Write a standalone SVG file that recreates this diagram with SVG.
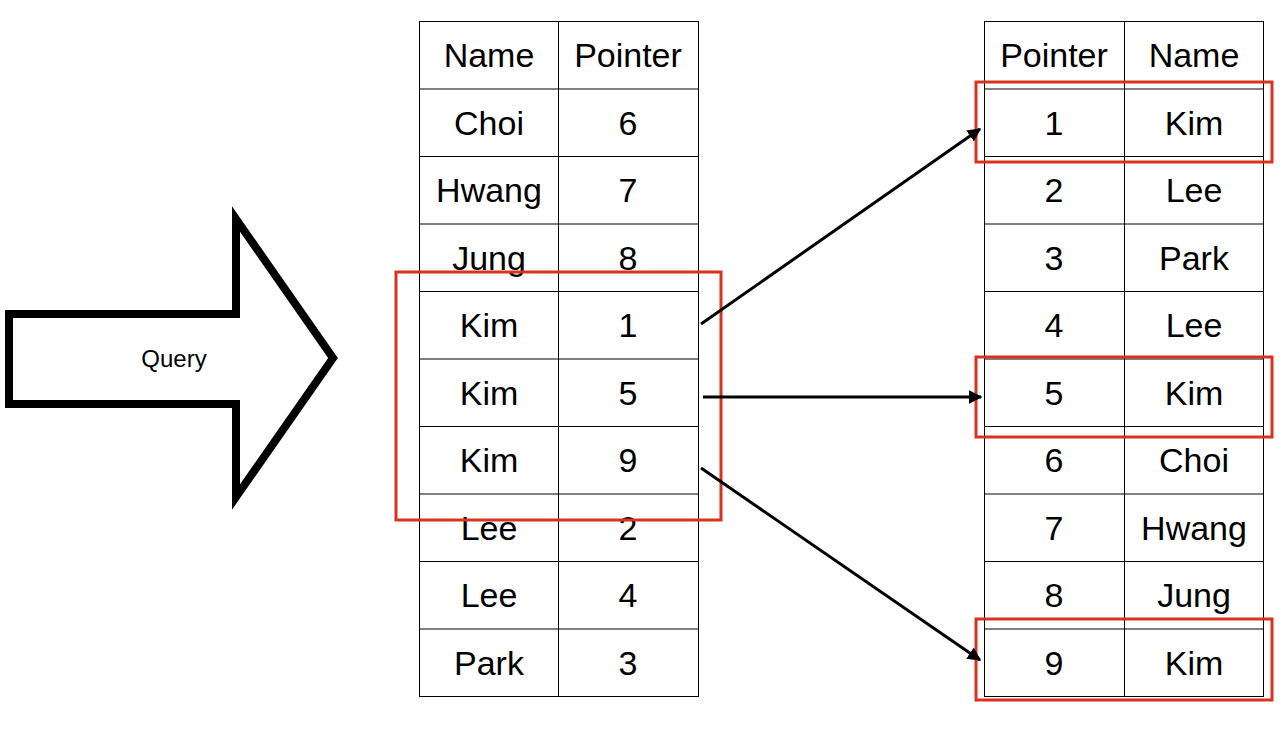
<svg xmlns="http://www.w3.org/2000/svg" width="1280" height="747" viewBox="0 0 1280 747">
<defs>
<style>
.t{font-family:"Liberation Sans",Arial,sans-serif;font-size:34px;fill:#000;text-anchor:middle}
.q{font-family:"Liberation Sans",Arial,sans-serif;font-size:24px;fill:#000;text-anchor:middle}
.grid{fill:none;stroke:#000;stroke-width:1}
.sel{fill:none;stroke:#d9321f;stroke-width:3}
.con{stroke:#000;stroke-width:3;fill:none;marker-end:url(#ah)}
</style>
<marker id="ah" viewBox="0 0 10 10" refX="9" refY="5" markerWidth="4.5" markerHeight="4.5" orient="auto" markerUnits="strokeWidth">
<path d="M0,0 L10,5 L0,10 z" fill="#000"/>
</marker>
</defs>
<rect width="1280" height="747" fill="#fff"/>

<g id="query-arrow">
<polygon points="9,314 236,314 236,219 333,358 236,497 236,404 9,404" fill="#fff" stroke="#000" stroke-width="8" stroke-linejoin="miter"/>
<text class="q" x="174" y="367">Query</text>
</g>

<g id="index-table">
<rect class="grid" x="419.5" y="21.5" width="279" height="675"/>
<path class="grid" d="M558.5,21.5V696.5 M419.5,89H698.5 M419.5,156.5H698.5 M419.5,224H698.5 M419.5,291.5H698.5 M419.5,359H698.5 M419.5,426.5H698.5 M419.5,494H698.5 M419.5,561.5H698.5 M419.5,629H698.5"/>
<text class="t" x="489" y="67">Name</text><text class="t" x="628" y="67">Pointer</text>
<text class="t" x="489" y="135">Choi</text><text class="t" x="628" y="135">6</text>
<text class="t" x="489" y="202">Hwang</text><text class="t" x="628" y="202">7</text>
<text class="t" x="489" y="270">Jung</text><text class="t" x="628" y="270">8</text>
<text class="t" x="489" y="337">Kim</text><text class="t" x="628" y="337">1</text>
<text class="t" x="489" y="405">Kim</text><text class="t" x="628" y="405">5</text>
<text class="t" x="489" y="472">Kim</text><text class="t" x="628" y="472">9</text>
<text class="t" x="489" y="540">Lee</text><text class="t" x="628" y="540">2</text>
<text class="t" x="489" y="607">Lee</text><text class="t" x="628" y="607">4</text>
<text class="t" x="489" y="675">Park</text><text class="t" x="628" y="675">3</text>
</g>

<g id="data-table">
<rect class="grid" x="984.5" y="21.5" width="279" height="675"/>
<path class="grid" d="M1124.5,21.5V696.5 M984.5,89H1263.5 M984.5,156.5H1263.5 M984.5,224H1263.5 M984.5,291.5H1263.5 M984.5,359H1263.5 M984.5,426.5H1263.5 M984.5,494H1263.5 M984.5,561.5H1263.5 M984.5,629H1263.5"/>
<text class="t" x="1054" y="67">Pointer</text><text class="t" x="1194" y="67">Name</text>
<text class="t" x="1054" y="135">1</text><text class="t" x="1194" y="135">Kim</text>
<text class="t" x="1054" y="202">2</text><text class="t" x="1194" y="202">Lee</text>
<text class="t" x="1054" y="270">3</text><text class="t" x="1194" y="270">Park</text>
<text class="t" x="1054" y="337">4</text><text class="t" x="1194" y="337">Lee</text>
<text class="t" x="1054" y="405">5</text><text class="t" x="1194" y="405">Kim</text>
<text class="t" x="1054" y="472">6</text><text class="t" x="1194" y="472">Choi</text>
<text class="t" x="1054" y="540">7</text><text class="t" x="1194" y="540">Hwang</text>
<text class="t" x="1054" y="607">8</text><text class="t" x="1194" y="607">Jung</text>
<text class="t" x="1054" y="675">9</text><text class="t" x="1194" y="675">Kim</text>
</g>

<g id="highlights">
<rect class="sel" x="396" y="272" width="325" height="248"/>
<rect class="sel" x="976" y="82" width="296" height="80"/>
<rect class="sel" x="976" y="357" width="296" height="80"/>
<rect class="sel" x="976" y="619" width="296" height="81"/>
</g>

<g id="connectors">
<line class="con" x1="701" y1="324" x2="980" y2="129"/>
<line class="con" x1="703" y1="397" x2="981" y2="397"/>
<line class="con" x1="701" y1="468" x2="980" y2="660"/>
</g>
</svg>
